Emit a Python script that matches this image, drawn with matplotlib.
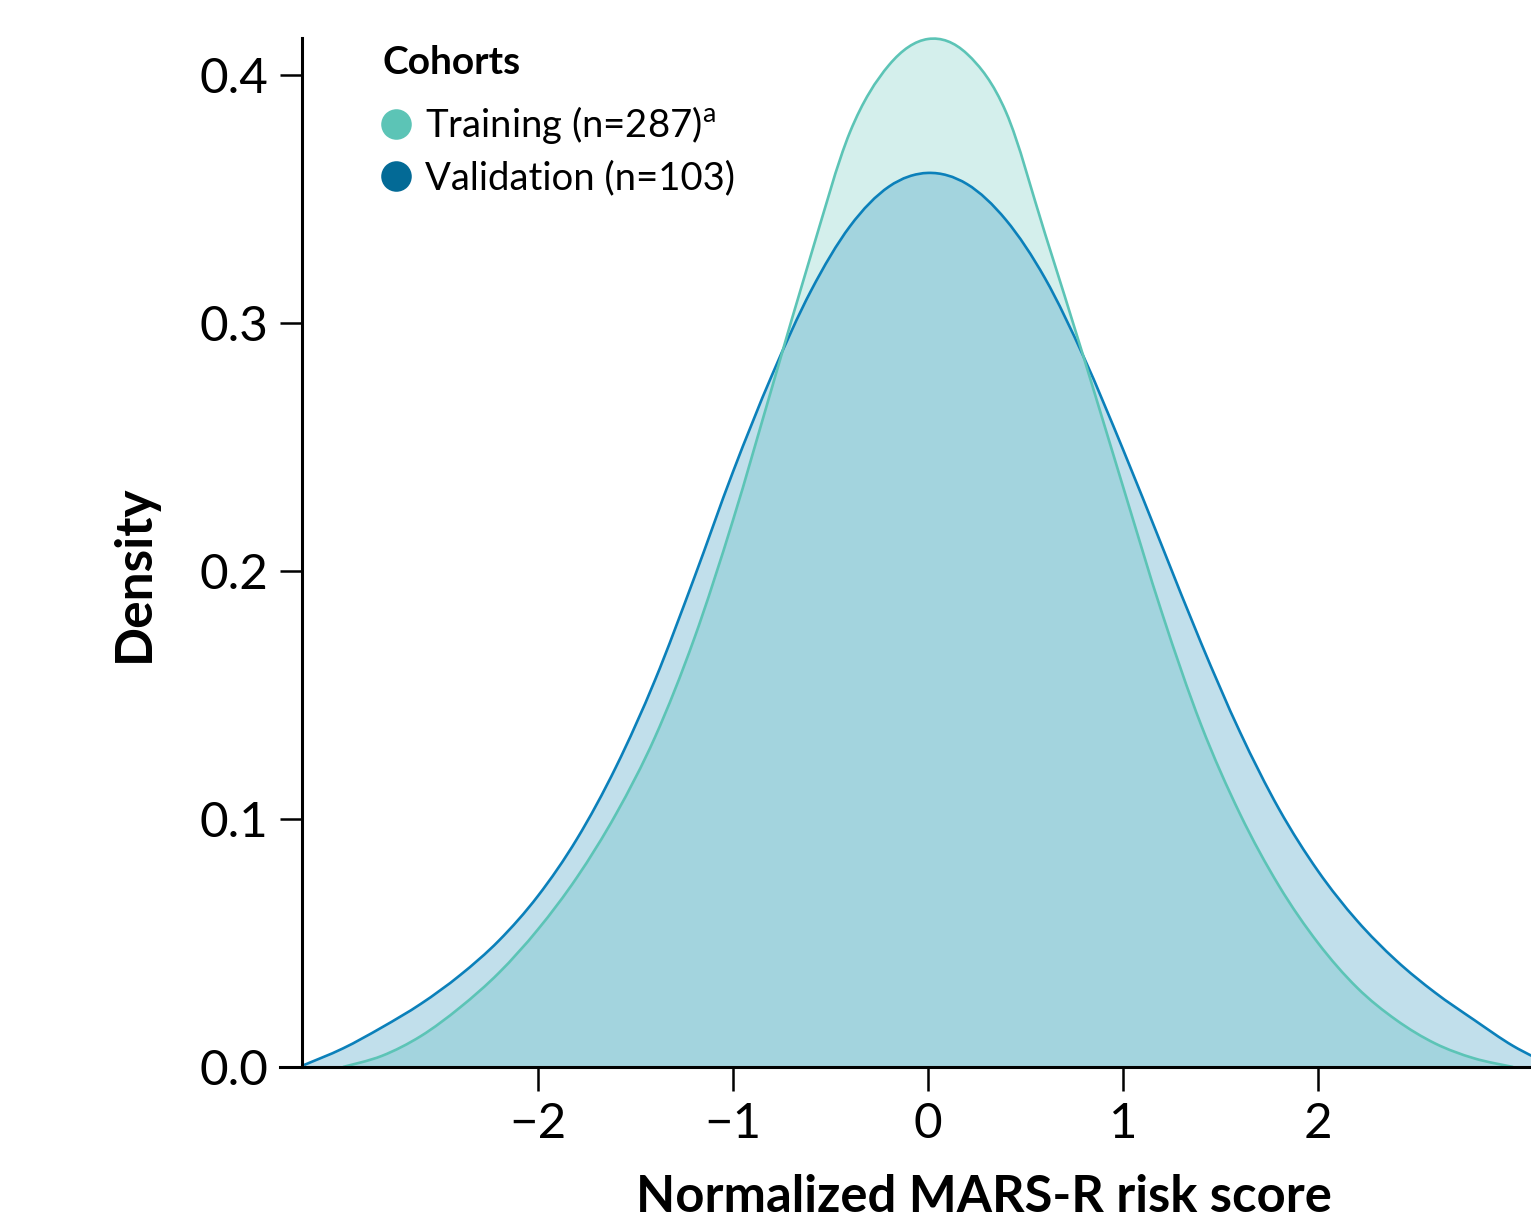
import numpy as np
import matplotlib
matplotlib.use("Agg")
import matplotlib.pyplot as plt
from matplotlib.path import Path
from matplotlib.patches import PathPatch
from matplotlib.lines import Line2D

# ---- data ----
train_x = [-3.0, -2.8, -2.6, -2.4, -2.2, -2.0, -1.8, -1.6, -1.4, -1.2, -1.0, -0.8, -0.6, -0.4, -0.2,
           0.0, 0.2, 0.4, 0.6, 0.8, 1.0, 1.2, 1.4, 1.6, 1.8, 2.0, 2.2, 2.4, 2.6, 2.8, 3.0]
train_d = [0.0, 0.0045, 0.0125, 0.024, 0.038, 0.0555, 0.0765, 0.102, 0.133, 0.1725, 0.2205, 0.274,
           0.3275, 0.377, 0.404, 0.4145, 0.4085, 0.385, 0.336, 0.2857, 0.234, 0.183, 0.138, 0.102,
           0.073, 0.050, 0.032, 0.019, 0.0095, 0.0035, 0.0]

valid_x = [-3.2, -3.0, -2.8, -2.6, -2.4, -2.2, -2.0, -1.8, -1.6, -1.4, -1.2, -1.0, -0.8, -0.6, -0.4,
           -0.2, 0.0, 0.2, 0.4, 0.6, 0.8, 1.0, 1.2, 1.4, 1.6, 1.8, 2.0, 2.2, 2.4, 2.6, 2.8, 3.0, 3.2]
valid_d = [0.0008, 0.0075, 0.016, 0.0255, 0.037, 0.051, 0.069, 0.092, 0.121, 0.156, 0.197,
           0.240, 0.279, 0.313, 0.339, 0.355, 0.3605, 0.356, 0.3415, 0.318, 0.286, 0.249, 0.210,
           0.171, 0.135, 0.104, 0.079, 0.059, 0.043, 0.030, 0.019, 0.0085, 0.0005]

series_labels = ["Training (n=287)$^{\\mathregular{a}}$", "Validation (n=103)"]
legend_title = "Cohorts"
x_ticks = [-2, -1, 0, 1, 2]
y_ticks = [0.0, 0.1, 0.2, 0.3, 0.4]
x_label = "Normalized MARS-R risk score"
y_label = "Density"

train_line = "#5CC4B6"
train_fill = "#D4EFEC"
valid_line = "#0B80BA"
valid_fill = (52/255, 152/255, 192/255, 0.30)
valid_marker = "#036A96"

plt.rcParams['font.family'] = ['Lato', 'DejaVu Sans']


def smooth_path(x, y, close=False):
    pts = np.column_stack([x, y]).astype(float)
    n = len(pts)
    verts = [pts[0]]
    codes = [Path.MOVETO]
    for i in range(n - 1):
        p0 = pts[i - 1] if i > 0 else pts[i]
        p1 = pts[i]
        p2 = pts[i + 1]
        p3 = pts[i + 2] if i + 2 < n else pts[i + 1]
        c1 = p1 + (p2 - p0) / 6.0
        c2 = p2 - (p3 - p1) / 6.0
        verts += [c1, c2, p2]
        codes += [Path.CURVE4] * 3
    if close:
        verts += [(x[-1], 0.0), (x[0], 0.0), (x[0], 0.0)]
        codes += [Path.LINETO, Path.LINETO, Path.CLOSEPOLY]
    return Path(verts, codes)


W, H = 1531, 1226
fig = plt.figure(figsize=(W / 100, H / 100), dpi=100)
ax = fig.add_axes([280 / W, 1 - 1067 / H, 1 - 280 / W, (1067 - 38) / H])

ax.add_patch(PathPatch(smooth_path(train_x, train_d, True), facecolor=train_fill, edgecolor='none', zorder=1))
ax.add_patch(PathPatch(smooth_path(valid_x, valid_d, True), facecolor=valid_fill, edgecolor='none', zorder=2))
ax.add_patch(PathPatch(smooth_path(valid_x, valid_d), facecolor='none', edgecolor=valid_line, lw=1.9, zorder=3))
ax.add_patch(PathPatch(smooth_path(train_x, train_d), facecolor='none', edgecolor=train_line, lw=1.9, zorder=4,
                       clip_on=False))

ax.set_xlim(-3.323, 3.092)
ax.set_ylim(0, 0.4149)

for s in ['top', 'right']:
    ax.spines[s].set_visible(False)
ax.spines['left'].set_position(('data', -3.21))
ax.spines['left'].set_linewidth(2.2)
ax.spines['bottom'].set_linewidth(2.2)
ax.spines['left'].set_zorder(6)
ax.spines['bottom'].set_zorder(6)

ax.set_xticks(x_ticks)
ax.set_xticklabels([f"{t}".replace('-', '\u2212') for t in x_ticks])
ax.set_yticks(y_ticks)
ax.set_yticklabels([f"{t:.1f}" for t in y_ticks])
ax.tick_params(axis='y', direction='out', length=16, width=1.8, labelsize=35.5, pad=8)
ax.tick_params(axis='x', direction='out', length=17, width=1.8, labelsize=35.5, pad=8)

ax.set_xlabel(x_label, fontsize=36.5, fontweight='bold')
ax.xaxis.set_label_coords((984 - 280) / 1251, (1067 - 1174) / 1029)
ax.set_ylabel(y_label, fontsize=37, fontweight='bold')
ax.yaxis.set_label_coords((158 - 280) / 1251, (1067 - 573) / 1029)

handles = [Line2D([], [], ls='none', marker='o', markersize=22, markerfacecolor=train_line,
                  markeredgecolor='none'),
           Line2D([], [], ls='none', marker='o', markersize=22, markerfacecolor=valid_marker,
                  markeredgecolor='none')]
leg = ax.legend(handles, series_labels, loc='upper left',
                bbox_to_anchor=(377 / W, 1 - 104 / H), bbox_transform=fig.transFigure,
                frameon=False, fontsize=27.5, handletextpad=0.25, labelspacing=0.38,
                handlelength=1.0, borderaxespad=0, borderpad=0.0)
fig.text(383 / W, 1 - 62 / H, legend_title, fontsize=28, fontweight='bold', ha='left', va='center')

fig.savefig("out.png", dpi=100)
